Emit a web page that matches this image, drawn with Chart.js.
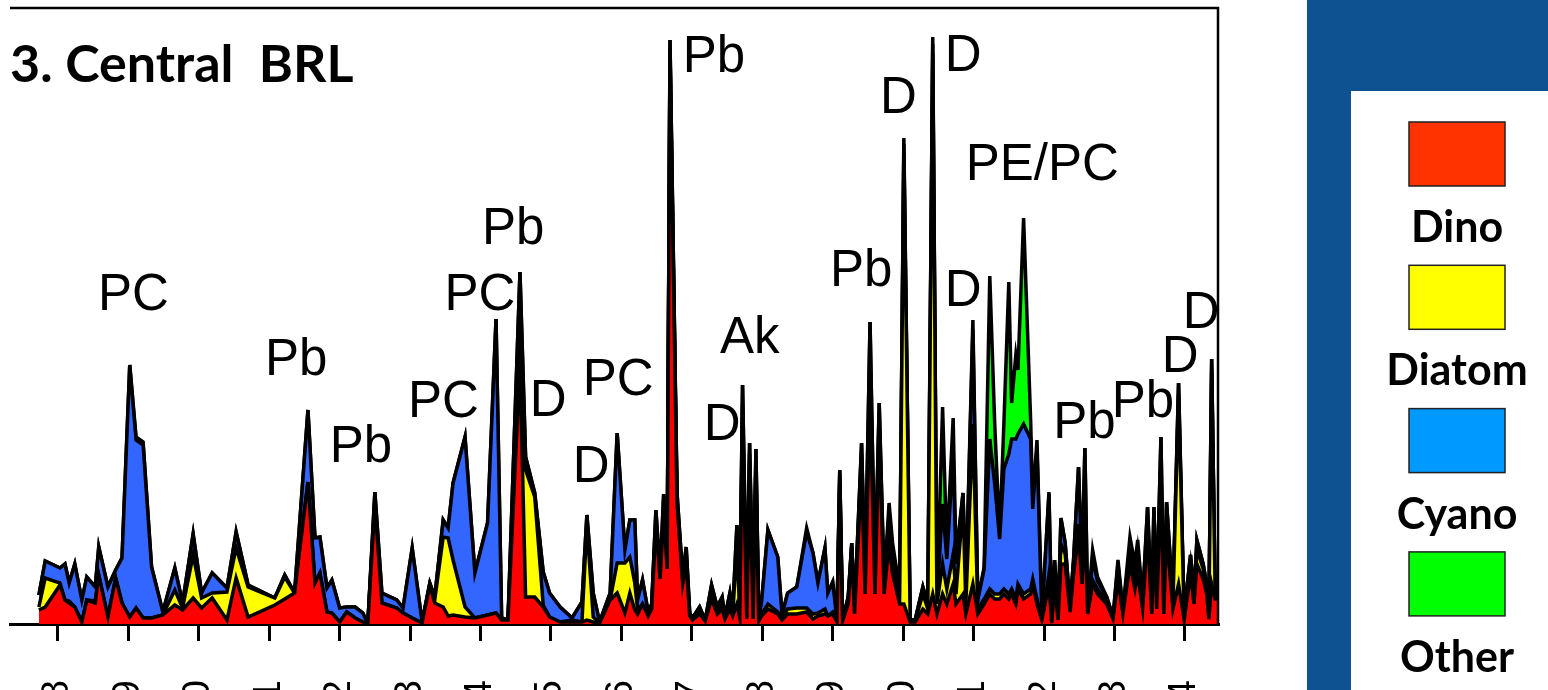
<!DOCTYPE html>
<html>
<head>
<meta charset="utf-8">
<title>3. Central BRL</title>
<script src="https://cdn.jsdelivr.net/npm/chart.js@4.4.1/dist/chart.umd.min.js"></script>
<style>
  html, body { margin: 0; padding: 0; background: #fff; }
  #wrap { position: relative; width: 1548px; height: 690px; }
</style>
</head>
<body>
<div id="wrap"><canvas id="chart" width="1548" height="690"></canvas></div>
<script>
// sample dates (decimal years) shared by the four groups
const sampleDates = [
  1997.73, 1997.82, 1998.03, 1998.10, 1998.16, 1998.24, 1998.34, 1998.41, 1998.53, 1998.58,
  1998.71, 1998.82, 1998.91, 1999.02, 1999.11, 1999.21, 1999.33, 1999.49, 1999.66, 1999.77,
  1999.92, 2000.04, 2000.19, 2000.40, 2000.53, 2000.70, 2001.08, 2001.22, 2001.36, 2001.55,
  2001.65, 2001.72, 2001.82, 2001.89, 2002.00, 2002.10, 2002.22, 2002.33, 2002.40, 2002.50,
  2002.60, 2002.81, 2002.90, 2003.03, 2003.17, 2003.28, 2003.35, 2003.47, 2003.54, 2003.61,
  2003.78, 2003.92, 2004.10, 2004.22, 2004.30, 2004.39, 2004.56, 2004.64, 2004.77, 2004.89,
  2004.98, 2005.13, 2005.30, 2005.44, 2005.51, 2005.60, 2005.69, 2005.84, 2005.94, 2006.05,
  2006.12, 2006.19, 2006.23, 2006.30, 2006.38, 2006.43, 2006.49, 2006.55, 2006.60, 2006.65,
  2006.69, 2006.79, 2006.87, 2006.92, 2006.97, 2007.01, 2007.11, 2007.19, 2007.28, 2007.36,
  2007.43, 2007.47, 2007.54, 2007.58, 2007.64, 2007.68, 2007.72, 2007.78, 2007.82, 2007.87,
  2007.91, 2007.95, 2007.99, 2008.08, 2008.22, 2008.28, 2008.36, 2008.49, 2008.63, 2008.72,
  2008.79, 2008.89, 2008.93, 2009.00, 2009.06, 2009.10, 2009.14, 2009.22, 2009.27, 2009.31,
  2009.41, 2009.46, 2009.53, 2009.60, 2009.66, 2009.73, 2009.80, 2009.85, 2009.95, 2010.01,
  2010.10, 2010.17, 2010.28, 2010.35, 2010.42, 2010.48, 2010.56, 2010.62, 2010.71, 2010.75,
  2010.85, 2010.89, 2010.99, 2011.06, 2011.15, 2011.23, 2011.30, 2011.37, 2011.43, 2011.50,
  2011.54, 2011.60, 2011.63, 2011.71, 2011.81, 2011.84, 2011.90, 2011.97, 2012.07, 2012.11,
  2012.15, 2012.20, 2012.24, 2012.30, 2012.37, 2012.42, 2012.49, 2012.54, 2012.58, 2012.62,
  2012.69, 2012.76, 2012.89, 2012.98, 2013.05, 2013.12, 2013.22, 2013.29, 2013.33, 2013.40,
  2013.47, 2013.53, 2013.56, 2013.60, 2013.66, 2013.70, 2013.74, 2013.83, 2013.91, 2013.99,
  2014.03, 2014.08, 2014.13, 2014.17, 2014.26, 2014.31, 2014.34, 2014.38, 2014.43, 2014.47
];

const dino = [
  3.5, 4.25, 9.75, 6, 5.25, 4.25, 0.5, 6, 5.25, 12.25,
  1.75, 11.5, 5.25, 1.75, 4, 1.5, 1.5, 2.25, 4.75, 3.5,
  6.5, 4, 6.5, 1, 11.5, 1.75, 4.75, 6.25, 7.75, 35.5,
  10.25, 12.75, 3, 2.75, 0.5, 3, 1.5, 0.5, 0, 30,
  5.25, 4, 2.75, 1.5, 0.25, 9.75, 5.25, 4.25, 2, 2.25,
  1.75, 1.5, 2.25, 2.75, 1, 1, 65, 6.75, 6.75, 4.25,
  1.75, 0.5, 0.5, 0.5, 1, 0.5, 0.25, 6, 7.75, 2.75,
  7.75, 3.5, 2.5, 5, 2, 3.75, 25, 11.25, 27.5, 13.75,
  142.5, 30, 10, 15, 2, 1, 2.5, 0.75, 6.25, 2.5,
  3.75, 1.25, 3.75, 2, 5, 1.5, 50, 1.25, 37.5, 1.25,
  36.25, 0.75, 2, 3.75, 2.5, 1, 2.5, 2.5, 3, 1.25,
  2, 2.5, 2, 2.5, 0.5, 35, 0.75, 5, 17.5, 2.5,
  37.5, 7.5, 56.75, 7.5, 47.5, 7.5, 20, 12.5, 5, 5,
  0.5, 0.5, 3.75, 2.5, 7.5, 2.5, 7.5, 5, 10, 5,
  7.5, 2.5, 10, 2.5, 5, 7.5, 6.25, 6.25, 7.5, 6.25,
  7.5, 5, 8.75, 6.25, 7.5, 10, 5, 1, 10, 0.25,
  10, 1, 15, 15, 3, 12.5, 22.5, 10, 25, 2.5,
  10, 7.5, 5, 1.25, 11.25, 2.5, 15, 8.75, 12.5, 3.75,
  22.5, 2.5, 22.5, 3.75, 35, 2.5, 22.5, 3.75, 10, 1,
  6.25, 12.5, 5, 15, 11.25, 7.5, 1.25, 10, 6.25, 6.25
];

const diatom = [
  0.75, 7.25, 0.5, 0, 0.5, 0, 0, 0, 0.5, 0,
  0, 0, 0, 0, 0, 0, 0, 0, 3.75, 0.5,
  10.75, 2.5, 1.25, 7, 7.5, 7.5, 1.75, 5.5, 0, 0,
  0, 0, 0, 0, 0, 0, 0, 0, 0, 1.25,
  0, 0, 0, 0, 0, 0, 0.75, 17.5, 19.5, 13.75,
  2.5, 0, 0, 0, 0, 0, 10, 31.75, 25, 0.5,
  0, 0, 0.5, 0, 23.75, 1.25, 0, 0, 7.5, 12.5,
  9, 6.75, 1, 0, 0, 0, 0, 0, 0, 0,
  1.5, 1, 0, 2.5, 0, 0, 0.75, 0, 2, 0,
  1.25, 0, 2.5, 0, 15, 0.75, 5, 1, 5, 0.75,
  5, 0.5, 0.5, 1.25, 0.5, 0.5, 1.25, 1.5, 1, 1.25,
  0.75, 1.25, 0, 0.5, 0, 2.5, 0, 1.25, 2, 0.75,
  5, 1.25, 10, 1.25, 3.75, 1.25, 2.5, 2.5, 1.25, 112.5,
  0.25, 0.25, 3.75, 1.25, 135, 2.5, 7.5, 3.75, 7.5, 2.5,
  22.5, 2.5, 40, 1.25, 1.25, 1.25, 1.25, 1.25, 1.25, 1.25,
  1.25, 1.25, 1.25, 1.25, 1.25, 1.25, 1.25, 0, 2.5, 0,
  2.5, 0, 5, 2.5, 0.75, 2.5, 2.5, 1.25, 2.5, 0.5,
  1, 1.25, 0.75, 0, 1.25, 0.5, 1.25, 1.25, 1.25, 1,
  2.5, 0, 2.5, 1.25, 5, 0.5, 2.5, 1.25, 47.5, 0.5,
  2, 2.5, 1.25, 3.75, 2.5, 1.25, 0.5, 53.75, 0.75, 0.75
];

const cyano = [
  3, 4.25, 3.75, 9, 4.5, 10.75, 5.5, 5.75, 3.5, 7,
  7.5, 2, 11.25, 63, 42, 43.25, 12.75, 0.75, 5.5, 1.25,
  5.25, 1.25, 5, 1, 4, 0.5, 0, 0.5, 0, 18,
  11.25, 9, 6, 8.25, 3.5, 1.25, 2.75, 2.25, 0, 1.75,
  2.5, 2, 1.25, 17.5, 0.25, 0.5, 0.75, 4.25, 2.5, 19.25,
  42.5, 11.25, 23, 73.5, 0.5, 0, 13, 3.25, 1, 8.25,
  6, 3.75, 0.5, 5, 2.5, 6, 0.25, 1.75, 32.5, 3.25,
  9.25, 15.75, 2.5, 6, 1, 1.25, 3.5, 1.25, 5, 1.25,
  2, 1.75, 1.75, 1.75, 0.75, 0.5, 1, 0.25, 1.5, 1.75,
  1.75, 0.5, 1.5, 1, 4.75, 0.5, 4.75, 0.5, 2.75, 0.5,
  2.5, 0.25, 3, 18.5, 13.75, 0.75, 4, 5.25, 19, 15.25,
  7.5, 15.25, 5.75, 7.5, 0.5, 1, 0.25, 0.5, 0.75, 0.25,
  2.75, 1.25, 8.75, 1.5, 4, 1.25, 5.25, 3.75, 2.25, 2.5,
  0.25, 0.25, 1.75, 1.25, 2.5, 1, 15, 7.5, 25, 7.5,
  2.75, 2.75, 23.5, 2.25, 7.5, 37.5, 27.5, 13.75, 30, 35,
  37.5, 40, 37.5, 42.5, 37.5, 17.5, 37.5, 0.75, 20, 0,
  3.5, 0.75, 6.5, 2.75, 0.5, 1.25, 14.25, 1.5, 16.5, 0.5,
  5, 2, 1, 0.5, 2.5, 0.5, 2.5, 2.5, 4.75, 1.25,
  4.25, 1, 4.25, 1, 6.75, 0.5, 5.5, 1, 2.75, 0.25,
  1, 2.25, 0.75, 2.25, 1.25, 1, 0.25, 2.5, 0.25, 0.25
];

const other = [
  0, 0, 0, 0, 0, 0, 0, 0, 0, 0,
  0, 0, 0, 0, 0.75, 0.75, 0, 0, 0, 0,
  0, 0, 0, 0, 0, 0, 0, 0, 0, 0,
  0, 0, 0, 0, 0, 0, 0, 0, 0, 0,
  0, 0, 0, 0, 0, 0, 0, 0, 0, 0,
  0, 0, 0, 0, 0, 0, 0, 0, 0, 0,
  0, 0, 0, 0, 0, 0, 0, 0, 0, 0,
  0, 0, 0, 0, 0, 0, 0, 0, 0, 0,
  0, 0, 0, 0, 0, 0, 0, 0, 0, 0,
  0, 0, 0, 0, 0, 0, 0, 0, 0, 0,
  0, 0, 0, 0, 0, 0, 0, 0, 1, 0,
  0, 0, 0, 0, 0, 0, 0, 0, 0, 0,
  0, 0, 0, 0, 0, 0, 2.5, 1.5, 0, 1.5,
  0, 0, 0, 0, 1.75, 0, 24.25, 2.25, 9, 1.75,
  0, 0, 2.5, 0, 0.5, 40.75, 15, 1, 11.25, 43,
  9, 21, 16, 51.5, 4.75, 1.5, 2.25, 0, 0.5, 0,
  0, 0, 0, 0, 0, 0, 0, 0, 0, 0,
  2.5, 1, 0, 0, 1, 0, 3, 2.5, 2.5, 0,
  0, 0, 0, 0, 0, 0, 0, 0, 0, 0,
  0, 0, 0, 0, 0, 0, 0, 0, 0, 0
];

const yearTicks = [1998, 1999, 2000, 2001, 2002, 2003, 2004, 2005, 2006, 2007,
  2008, 2009, 2010, 2011, 2012, 2013, 2014];

const seriesNames = ["Dino", "Diatom", "Cyano", "Other"];
const areaColors = ["#ff0000", "#ffff00", "#3366ff", "#00ff00"];
const keyColors = ["#ff3300", "#ffff00", "#0099ff", "#00ff00"];
const titleText = "3. Central  BRL";

// bloom labels, anchored at (year, level) of their lower-left corner
const noteText = ["PC", "Pb", "Pb", "PC", "PC", "Pb", "D", "D", "PC", "Pb", "D", "Ak",
  "Pb", "D", "D", "PE/PC", "D", "Pb", "Pb", "D", "D"];
const noteYear = [1998.57, 2000.94, 2001.86, 2002.97, 2003.49, 2004.02, 2004.70, 2005.31, 2005.45,
  2006.87, 2007.17, 2007.40, 2008.96, 2009.67, 2010.59, 2010.89, 2010.59, 2012.13, 2012.96,
  2013.67, 2013.97];
const noteLevel = [78.5, 62.25, 40.5, 51.75, 78.5, 95, 52, 35.5, 57.25,
  138, 46, 67.75, 84.5, 127.75, 138.25, 111, 79.5, 46.5, 51.75,
  63, 74];

const seriesValues = [dino, diatom, cyano, other];

const decorPlugin = {
  id: "decor",
  afterDraw(chart) {
    const { ctx, chartArea, scales } = chart;
    ctx.save();

    // top and right frame of the plot
    ctx.strokeStyle = "#000";
    ctx.lineWidth = 2.5;
    ctx.beginPath();
    ctx.moveTo(chartArea.left, chartArea.top);
    ctx.lineTo(chartArea.right, chartArea.top);
    ctx.lineTo(chartArea.right, chartArea.bottom);
    ctx.stroke();

    // bloom labels
    ctx.fillStyle = "#000";
    ctx.textAlign = "left";
    ctx.textBaseline = "alphabetic";
    ctx.font = '51px "Liberation Sans", Arial, sans-serif';
    noteText.forEach((t, i) => {
      ctx.fillText(t, scales.x.getPixelForValue(noteYear[i]), scales.y.getPixelForValue(noteLevel[i]));
    });

    // panel title
    ctx.font = "bold 52px Lato, sans-serif";
    ctx.fillText(titleText, 10, 82);

    // key on the right
    ctx.fillStyle = "#0f5292";
    ctx.fillRect(1307, 0, 241, 690);
    ctx.fillStyle = "#fff";
    ctx.fillRect(1351, 91, 197, 599);
    ctx.font = "bold 43px Lato, sans-serif";
    ctx.textAlign = "center";
    seriesNames.forEach((name, i) => {
      const top = 122 + i * 143.3;
      ctx.fillStyle = keyColors[i];
      ctx.fillRect(1409, top, 96, 64);
      ctx.strokeStyle = "#222";
      ctx.lineWidth = 1.5;
      ctx.strokeRect(1409, top, 96, 64);
      ctx.fillStyle = "#000";
      ctx.fillText(name, 1457, top + 64 + 56);
    });

    ctx.restore();
  }
};

new Chart(document.getElementById("chart"), {
  type: "line",
  data: {
    datasets: seriesNames.map((name, k) => ({
      label: name,
      data: sampleDates.map((d, i) => ({ x: d, y: seriesValues[k][i] })),
      backgroundColor: areaColors[k],
      borderColor: "#000",
      borderWidth: 3.5,
      pointRadius: 0,
      tension: 0,
      fill: k === 0 ? "origin" : "-1"
    }))
  },
  options: {
    responsive: false,
    animation: false,
    events: [],
    layout: { padding: { left: 10, top: 8, right: 330, bottom: 0 } },
    plugins: {
      legend: { display: false },
      tooltip: { enabled: false }
    },
    scales: {
      x: {
        type: "linear",
        min: 1997.32,
        max: 2014.47,
        afterBuildTicks: (axis) => { axis.ticks = yearTicks.map((v) => ({ value: v })); },
        afterFit: (axis) => { axis.height = 66; },
        grid: { drawOnChartArea: false, drawTicks: true, tickLength: 17, color: "#000", lineWidth: 3 },
        border: { display: true, color: "#000", width: 3 },
        ticks: {
          autoSkip: false,
          minRotation: 90,
          maxRotation: 90,
          padding: 39,
          color: "#000",
          font: { family: '"Liberation Sans", Arial, sans-serif', size: 38 },
          callback: (v) => String(v)
        }
      },
      y: {
        display: false,
        stacked: true,
        min: 0,
        max: 154
      }
    }
  },
  plugins: [decorPlugin]
});
</script>
</body>
</html>
